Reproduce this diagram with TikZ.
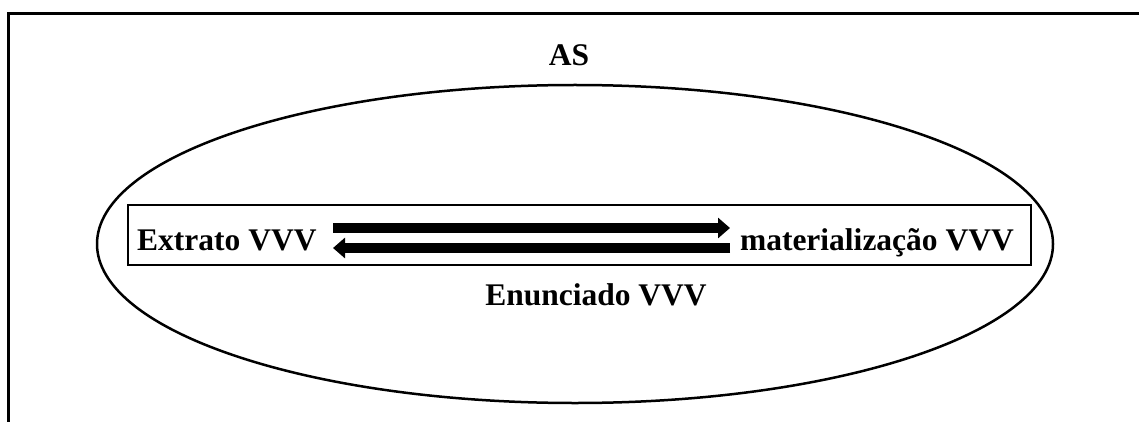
\documentclass[tikz,border=0pt]{standalone}
\usepackage{fontspec}
\setmainfont{Liberation Serif}
\usetikzlibrary{arrows.meta}
\tikzset{
  lbl/.style={font=\fontsize{31.5}{36}\selectfont\bfseries, inner sep=0pt},
  bigarrow/.style={line width=10pt, -{Triangle[length=12pt, width=20pt]}},
  frameline/.style={line width=3pt},
  shapeline/.style={line width=2.5pt}
}
\begin{document}
\begin{tikzpicture}[x=1pt,y=-1pt]
\useasboundingbox (0,0) rectangle (1139,422);
% outer frame (top and left)
\draw[frameline] (1139,13.5) -- (8,13.5) -- (8,422);
% ellipse
\draw[shapeline] (575,244) ellipse [x radius=478, y radius=159];
% inner box
\draw[shapeline] (128,205) rectangle (1031,265);
% labels
\node[lbl, anchor=base] (as) at (569,66) {AS};
\node[lbl, anchor=base west] (ext) at (137,250) {Extrato VVV};
\node[lbl, anchor=base east] (mat) at (1014,250) {materialização VVV};
\node[lbl, anchor=base] (enu) at (596,305) {Enunciado VVV};
% arrows
\coordinate (u1) at (333,228);
\coordinate (u2) at (730,228);
\coordinate (l1) at (730,248);
\coordinate (l2) at (333,248);
\draw[bigarrow] (u1) -- (u2);
\draw[bigarrow] (l1) -- (l2);
\end{tikzpicture}
\end{document}
